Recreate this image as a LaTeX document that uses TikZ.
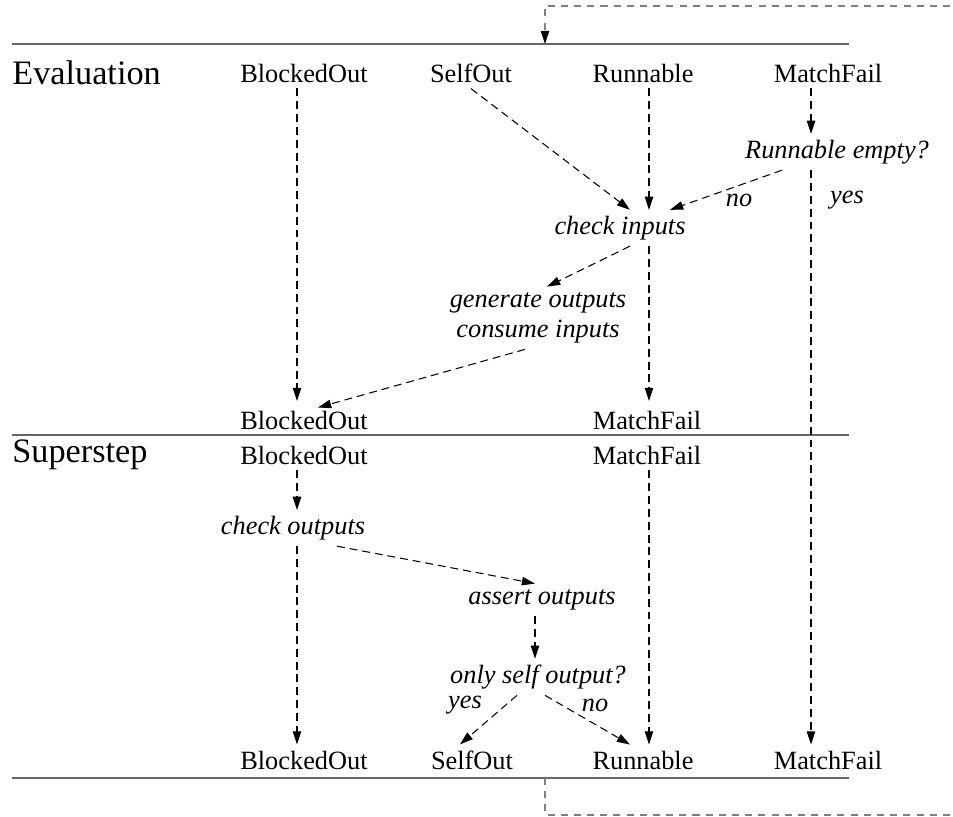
\documentclass[tikz,border=0pt]{standalone}
\usepackage{fontspec}
\setmainfont{Liberation Serif}
\usetikzlibrary{calc,arrows.meta}

\begin{document}
\begin{tikzpicture}[
      x=0.02cm, y=-0.02cm,
      state/.style = {font=\fontsize{15}{17}\selectfont},
      act/.style = {font=\fontsize{15}{17}\selectfont\itshape, align=center},
      stage/.style = {font=\fontsize{19.5}{22}\selectfont, anchor=west, inner sep=0pt},
      flow/.style = {draw, line width=0.6pt, dash pattern=on 4.5pt off 2.8pt,
                     -{Triangle[length=7.5pt,width=4.8pt]}},
      sepline/.style = {draw=black!60, line width=0.7pt},
      loopline/.style = {draw=black!50, line width=0.6pt, dash pattern=on 4pt off 3.5pt,
                         -{Triangle[length=7.5pt,width=4.8pt,color=black]}}
      ]
      \useasboundingbox (0,0) rectangle (953,816);

      % columns of the dashed tracks
      \coordinate (cB) at (297,0);
      \coordinate (cA) at (535,0);
      \coordinate (cR) at (649,0);
      \coordinate (cM) at (811,0);

      % separators
      \draw[sepline] (12,44) -- (849,44);
      \draw[sepline] (12,435) -- (849,435);
      \draw[sepline] (12,778) -- (849,778);

      % Evaluation
      \node[stage] (evl) at (12,73) {Evaluation};
      \node[state] (bo1) at (304,73) {BlockedOut};
      \node[state] (so1) at (471,73) {SelfOut};
      \node[state] (ru1) at (643,73) {Runnable};
      \node[state] (mf1) at (828,73) {MatchFail};
      \node[act] (rempty) at (837,152) {Runnable empty?};
      \node[act] (rno) at (739,200) {no};
      \node[act] (ryes) at (847,200) {yes};
      \node[act] (chin) at (620,228) {check inputs};
      \node[act] (gen) at (538,318) {generate outputs\\consume inputs};
      \node[state] (bo2) at (304,420) {BlockedOut};
      \node[state] (mf2) at (647,420) {MatchFail};

      % Superstep
      \node[stage] (sup) at (12,455) {Superstep};
      \node[state] (bo3) at (304,455) {BlockedOut};
      \node[state] (mf3) at (647,455) {MatchFail};
      \node[act] (chout) at (293,528) {check outputs};
      \node[act] (asout) at (542,600) {assert outputs};
      \node[act] (only) at (538,677) {only self output?};
      \node[act] (oyes) at (465,705) {yes};
      \node[act] (ono) at (595,705) {no};
      \node[state] (bo4) at (304,760) {BlockedOut};
      \node[state] (so4) at (472,760) {SelfOut};
      \node[state] (ru4) at (643,760) {Runnable};
      \node[state] (mf4) at (828,760) {MatchFail};

      \path[flow] (bo1.south -| cB) -- ([yshift=2pt]bo2.north -| cB);
      \path[flow] (so1.south) -- ($(chin.north)+(10,0)$);
      \path[flow] (ru1.south -| cR) -- (chin.north -| cR);
      \path[flow] (mf1.south -| cM) -- (rempty.north -| cM);
      \path[flow] ($(rempty.south)+(-55,0)$) -- ($(chin.north)+(50,0)$);
      \path[flow] (rempty.south -| cM) -- (mf4.north -| cM);
      \path[flow] (chin.south -| cR) -- ([yshift=2pt]mf2.north -| cR);
      \path[flow] ($(chin.south)+(10,0)$) -- ($(gen.north)+(9,0)$);
      \path[flow] ($(gen.south)+(-13,0)$) -- ($(bo2.north)+(14,3)$);

      \path[flow] (mf3.south -| cR) -- (ru4.north -| cR);
      \path[flow] (bo3.south -| cB) -- (chout.north -| cB);
      \path[flow] (chout.south -| cB) -- (bo4.north -| cB);
      \path[flow] ($(chout.south)+(44,0)$) -- ($(asout.north)+(-7,0)$);
      \path[flow] (asout.south -| cA) -- (only.north -| cA);
      \path[flow] ($(only.south)+(-21,0)$) -- ($(so4.north)+(-12,0)$);
      \path[flow] ($(only.south)+(7,0)$) -- ($(ru4.north)+(-13,0)$);

      % back to the next evaluation
      \coordinate (loopin) at (545,778);
      \coordinate (loopout) at (545,44);
      \path[loopline] (loopin) |- (990,815) -- (990,6) -| (loopout);
\end{tikzpicture}
\end{document}
